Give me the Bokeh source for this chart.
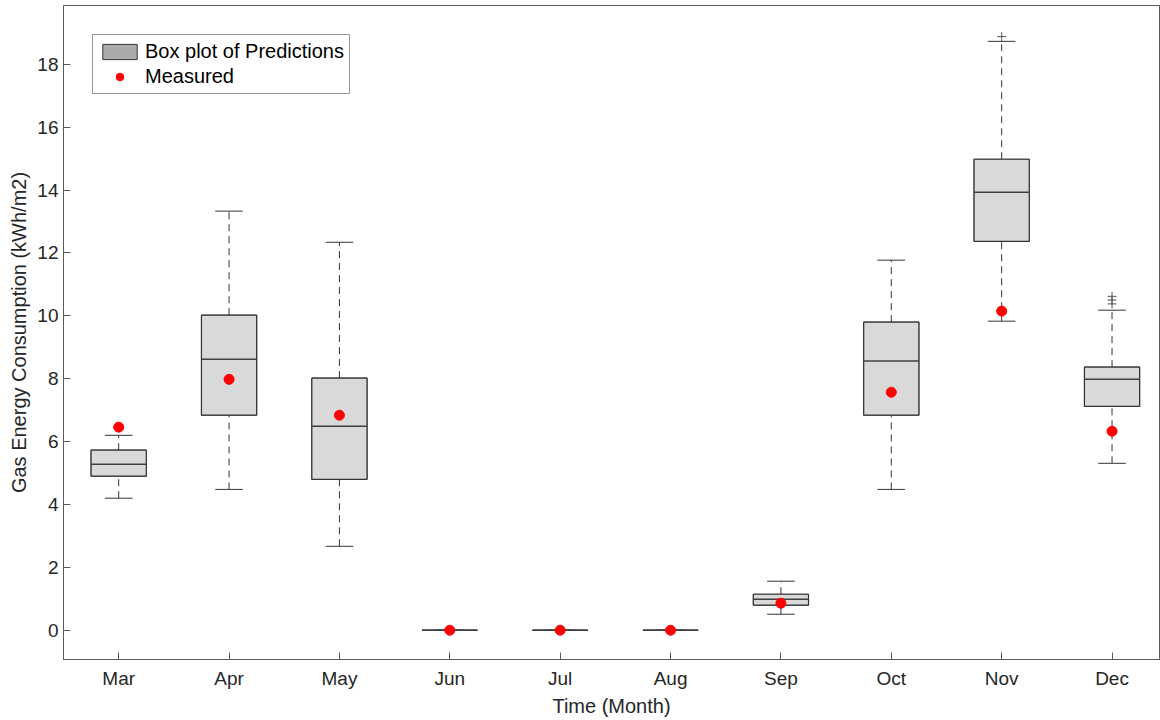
from bokeh.plotting import figure
from bokeh.models import Range1d, FixedTicker, Legend, LegendItem, ColumnDataSource
from bokeh.embed import file_html
from bokeh.resources import INLINE

months = ["Mar", "Apr", "May", "Jun", "Jul", "Aug", "Sep", "Oct", "Nov", "Dec"]
q1 = [4.90, 6.84, 4.80, 0.0, 0.0, 0.0, 0.80, 6.84, 12.37, 7.12]
median = [5.28, 8.62, 6.49, 0.0, 0.0, 0.0, 0.99, 8.56, 13.93, 7.98]
q3 = [5.73, 10.02, 8.02, 0.0, 0.0, 0.0, 1.145, 9.80, 14.98, 8.37]
lower = [4.20, 4.48, 2.67, 0.0, 0.0, 0.0, 0.51, 4.48, 9.83, 5.31]
upper = [6.20, 13.33, 12.34, 0.0, 0.0, 0.0, 1.56, 11.77, 18.73, 10.18]
measured = [6.46, 7.98, 6.84, 0.0, 0.0, 0.0, 0.86, 7.57, 10.15, 6.33]
outlier_month = ["Nov", "Dec", "Dec", "Dec"]
outlier_value = [18.88, 10.62, 10.50, 10.38]
y_ticks = [0, 2, 4, 6, 8, 10, 12, 14, 16, 18]

FONT = "Liberation Sans"
TXT = "#262626"
AX = "#5a5a5a"

xs = list(range(1, len(months) + 1))
pos = {m: i for m, i in zip(months, xs)}
bw = 0.25
cw = 0.125

src = ColumnDataSource(dict(
    x=xs, left=[x - bw for x in xs], right=[x + bw for x in xs],
    cl=[x - cw for x in xs], cr=[x + cw for x in xs],
    q1=q1, med=median, q3=q3, lo=lower, hi=upper, meas=measured))

p = figure(width=1160, height=720, output_backend="svg", toolbar_location=None,
           x_range=Range1d(0.5, 10.43), y_range=Range1d(-0.93, 19.87),
           min_border_left=63, min_border_top=5, min_border_right=1, min_border_bottom=61,
           background_fill_color="white", border_fill_color="white")
p.grid.visible = False
p.outline_line_color = AX
p.outline_line_width = 1

# legend swatch renderer (drawn first, fully covered by the real boxes)
legend_box = p.quad(left="left", right="right", bottom="q1", top="q3", source=src,
                    fill_color="#aaaaaa", line_color="#333333", line_width=1)

# whiskers
p.segment(x0="x", y0="q3", x1="x", y1="hi", source=src, line_color="#333333",
          line_width=1, line_dash="7 5")
p.segment(x0="x", y0="lo", x1="x", y1="q1", source=src, line_color="#333333",
          line_width=1, line_dash="7 5")
p.segment(x0="cl", y0="hi", x1="cr", y1="hi", source=src, line_color="#333333", line_width=1)
p.segment(x0="cl", y0="lo", x1="cr", y1="lo", source=src, line_color="#333333", line_width=1)
# boxes
p.quad(left="left", right="right", bottom="q1", top="q3", source=src,
       fill_color="#d9d9d9", line_color="#333333", line_width=1.2)
p.segment(x0="left", y0="med", x1="right", y1="med", source=src,
          line_color="#404040", line_width=1.5)
# outliers
p.scatter(x=[pos[m] for m in outlier_month], y=outlier_value, marker="cross",
          size=9, line_color="#555555", line_width=1)
# measured
meas_r = p.scatter(x="x", y="meas", source=src, marker="circle", size=10,
                   fill_color="#ff0000", line_color="#ff0000")

legend = Legend(items=[LegendItem(label="Box plot of Predictions", renderers=[legend_box]),
                       LegendItem(label="Measured", renderers=[meas_r])],
                location="top_left", margin=29, padding=5, spacing=2,
                label_height=22, glyph_height=19, glyph_width=43, label_standoff=4,
                label_text_font=FONT, label_text_font_size="20px", label_text_color="black",
                border_line_color="#333333", border_line_width=1,
                background_fill_alpha=1.0)
p.add_layout(legend, "center")

for ax in (p.xaxis[0], p.yaxis[0]):
    ax.axis_line_color = AX
    ax.major_tick_line_color = AX
    ax.major_tick_in = 7
    ax.major_tick_out = 0
    ax.minor_tick_line_color = None
    ax.major_label_text_font = FONT
    ax.major_label_text_font_size = "19px"
    ax.major_label_text_color = TXT
    ax.axis_label_text_font = FONT
    ax.axis_label_text_font_size = "20px"
    ax.axis_label_text_color = TXT
    ax.axis_label_text_font_style = "normal"

p.xaxis.ticker = FixedTicker(ticks=xs)
p.xaxis.major_label_overrides = {x: m for x, m in zip(xs, months)}
p.xaxis.axis_label = "Time (Month)"
p.xaxis.major_label_standoff = 8
p.xaxis.axis_label_standoff = 3
p.yaxis.ticker = FixedTicker(ticks=y_ticks)
p.yaxis.axis_label = "Gas Energy Consumption (kWh/m2)"
p.yaxis.major_label_standoff = 5
p.yaxis.axis_label_standoff = 4

open("out.html", "w").write(file_html(p, INLINE))
